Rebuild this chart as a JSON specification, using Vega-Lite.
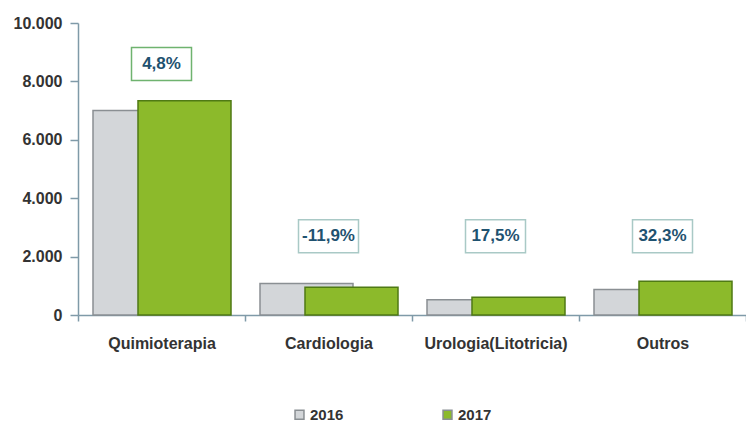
{
  "$schema": "https://vega.github.io/schema/vega-lite/v6.json",
  "autosize": "none",
  "width": 668,
  "height": 292,
  "padding": {"left": 78, "top": 23, "right": 0, "bottom": 109},
  "background": "white",
  "config": {
    "view": {"stroke": null},
    "font": "Liberation Sans",
    "locale": {"number": {"decimal": ",", "thousands": ".", "grouping": [3], "currency": ["", " €"]}}
  },
  "datasets": {
    "bars": [
      {"category": "Quimioterapia", "year": "2016", "value": 7000},
      {"category": "Quimioterapia", "year": "2017", "value": 7336},
      {"category": "Cardiologia", "year": "2016", "value": 1080},
      {"category": "Cardiologia", "year": "2017", "value": 952},
      {"category": "Urologia(Litotricia)", "year": "2016", "value": 520},
      {"category": "Urologia(Litotricia)", "year": "2017", "value": 611},
      {"category": "Outros", "year": "2016", "value": 874},
      {"category": "Outros", "year": "2017", "value": 1156}
    ],
    "labels": [
      {"category": "Quimioterapia", "label": "4,8%", "pos": 8600},
      {"category": "Cardiologia", "label": "-11,9%", "pos": 2700},
      {"category": "Urologia(Litotricia)", "label": "17,5%", "pos": 2700},
      {"category": "Outros", "label": "32,3%", "pos": 2700}
    ]
  },
  "encoding": {
    "x": {
      "field": "category", "type": "nominal", "sort": null,
      "scale": {"domain": ["Quimioterapia", "Cardiologia", "Urologia(Litotricia)", "Outros"], "paddingInner": 0, "paddingOuter": 0},
      "axis": {
        "title": null, "labelAngle": 0, "labelFontSize": 16, "labelFontWeight": "bold",
        "labelColor": "#333333", "labelPadding": 14, "domainColor": "#7f9aa8", "domainWidth": 1.5,
        "tickColor": "#7f9aa8", "tickBand": "extent", "tickSize": 6, "tickWidth": 1.5
      }
    }
  },
  "layer": [
    {
      "data": {"name": "bars"},
      "transform": [{"filter": "datum.year === '2016'"}],
      "mark": {"type": "bar", "width": 93, "xOffset": -22, "stroke": "#8a8f93", "strokeWidth": 1.5},
      "encoding": {
        "y": {
          "field": "value", "type": "quantitative",
          "scale": {"domain": [0, 10000]},
          "axis": {
            "title": null, "values": [0, 2000, 4000, 6000, 8000, 10000], "format": ",d",
            "labelFontSize": 16, "labelFontWeight": "bold", "labelColor": "#333333",
            "labelPadding": 8, "domainColor": "#7f9aa8", "domainWidth": 1.5,
            "tickColor": "#7f9aa8", "tickSize": 8, "tickOffset": 0, "tickWidth": 1.5,
            "grid": false
          }
        },
        "color": {
          "field": "year", "type": "nominal",
          "scale": {"domain": ["2016", "2017"], "range": ["#d3d6d9", "#8cba2b"]},
          "legend": {
            "title": null, "orient": "none", "direction": "horizontal",
            "legendX": 214, "legendY": 384, "columnPadding": 96,
            "symbolType": "square", "symbolSize": 80, "symbolStrokeWidth": 1.5,
            "labelFontSize": 15, "labelFontWeight": "bold", "labelColor": "#333333", "labelOffset": 3
          }
        }
      }
    },
    {
      "data": {"name": "bars"},
      "transform": [{"filter": "datum.year === '2017'"}],
      "mark": {"type": "bar", "width": 93, "xOffset": 23, "stroke": "#4f7a14", "strokeWidth": 1.5},
      "encoding": {
        "y": {"field": "value", "type": "quantitative"},
        "color": {"field": "year", "type": "nominal"}
      }
    },
    {
      "data": {"name": "labels"},
      "mark": {"type": "point", "shape": "M-1,-0.55H1V0.55H-1Z", "size": 3600, "filled": true, "fill": "white", "strokeWidth": 1.5, "opacity": 1},
      "encoding": {
        "y": {"field": "pos", "type": "quantitative"},
        "stroke": {
          "condition": {"test": "datum.label === '4,8%'", "value": "#6fb36f"},
          "value": "#a9c9c6"
        }
      }
    },
    {
      "data": {"name": "labels"},
      "mark": {"type": "text", "fontSize": 17, "fontWeight": "bold", "color": "#1f5270", "baseline": "middle", "align": "center"},
      "encoding": {
        "y": {"field": "pos", "type": "quantitative"},
        "text": {"field": "label"}
      }
    }
  ]
}
